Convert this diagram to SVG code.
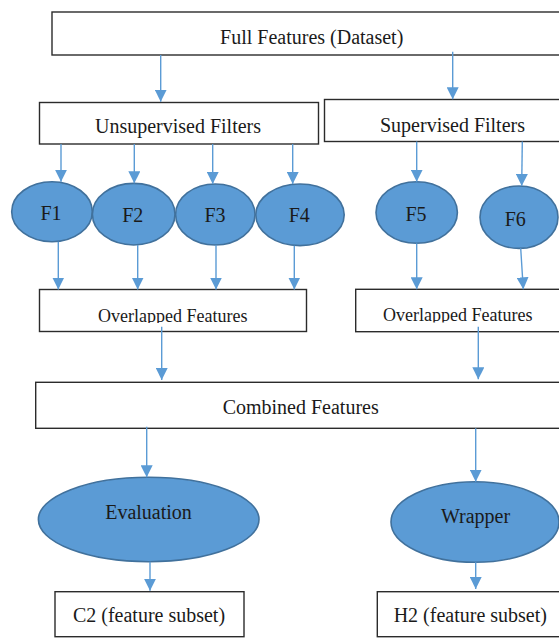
<svg xmlns="http://www.w3.org/2000/svg" width="559" height="641" viewBox="0 0 559 641">
<style>
.box{fill:#fff;stroke:#2b2b2b;stroke-width:1.4}
.ell{fill:#5b9bd5;stroke:#41719c;stroke-width:1.6}
text{font-family:'Liberation Serif','Times New Roman',Tinos,'DejaVu Serif',serif;font-size:20px;fill:#1a1a1a;text-anchor:middle}
text.sm{font-size:18px}
.conn line{stroke:#5b9bd5;stroke-width:1.4;fill:none;marker-end:url(#ah)}
</style>
<defs>
<marker id="ah" markerUnits="userSpaceOnUse" markerWidth="12" markerHeight="12" refX="12" refY="6" orient="auto">
<path d="M0,0 L12,6 L0,12 z" fill="#5b9bd5"/>
</marker>
<clipPath id="clipL"><rect x="39" y="289" width="270" height="34"/></clipPath>
<clipPath id="clipR"><rect x="355" y="289" width="210" height="33.5"/></clipPath>
</defs>
<rect width="559" height="641" fill="#fff"/>

<g id="full"><rect class="box" x="52" y="12" width="520" height="43"/><text x="311.7" y="43.5">Full Features (Dataset)</text></g>
<g id="unsup"><rect class="box" x="39.5" y="102.5" width="279" height="41.5"/><text x="178" y="133">Unsupervised Filters</text></g>
<g id="sup"><rect class="box" x="324.5" y="99.5" width="250" height="42"/><text x="452.5" y="131.5">Supervised Filters</text></g>

<g id="f1"><ellipse class="ell" cx="52" cy="211.7" rx="40.3" ry="30"/><text x="51" y="220">F1</text></g>
<g id="f2"><ellipse class="ell" cx="133.7" cy="214.2" rx="41.3" ry="30.8"/><text x="132.7" y="222.3">F2</text></g>
<g id="f3"><ellipse class="ell" cx="215.3" cy="214.5" rx="39.7" ry="30.5"/><text x="215" y="222.3">F3</text></g>
<g id="f4"><ellipse class="ell" cx="300" cy="214.8" rx="44.2" ry="30.8"/><text x="299.3" y="222.3">F4</text></g>
<g id="f5"><ellipse class="ell" cx="416.7" cy="212.5" rx="40.7" ry="30.8"/><text x="416" y="221">F5</text></g>
<g id="f6"><ellipse class="ell" cx="519" cy="217.2" rx="39" ry="31.2"/><text x="515.3" y="225.7">F6</text></g>

<g id="overL"><rect class="box" x="39.5" y="289.5" width="267" height="42"/><text class="sm" x="172.8" y="321.5" clip-path="url(#clipL)">Overlapped Features</text></g>
<g id="overR"><rect class="box" x="355.7" y="289.3" width="220" height="42.4"/><text class="sm" x="457.7" y="320.7" clip-path="url(#clipR)">Overlapped Features</text></g>

<g id="combined"><rect class="box" x="35.7" y="382.3" width="540" height="46"/><text x="300.7" y="414">Combined Features</text></g>

<g id="evaluation"><ellipse class="ell" cx="148.7" cy="519.5" rx="110.3" ry="42.2"/><text x="148.5" y="519.3">Evaluation</text></g>
<g id="wrapper"><ellipse class="ell" cx="475" cy="522" rx="84" ry="40.3"/><text x="475.5" y="523.3">Wrapper</text></g>

<g id="c2"><rect class="box" x="55" y="591.7" width="189" height="45"/><text x="149" y="622.3">C2 (feature subset)</text></g>
<g id="h2"><rect class="box" x="377.3" y="591.7" width="200" height="45"/><text x="470.3" y="622.3">H2 (feature subset)</text></g>

<g id="connectors" class="conn">
<line x1="160.7" y1="55" x2="160.7" y2="101.7"/>
<line x1="452.7" y1="51.7" x2="452.7" y2="99.3"/>
<line x1="61" y1="144" x2="61" y2="181.7"/>
<line x1="134.3" y1="144" x2="134.3" y2="183.3"/>
<line x1="212.7" y1="144" x2="212.7" y2="184"/>
<line x1="292.7" y1="144" x2="292.7" y2="184"/>
<line x1="416.7" y1="141.5" x2="416.7" y2="181.7"/>
<line x1="522.3" y1="141.5" x2="521.7" y2="186"/>
<line x1="58.3" y1="241.7" x2="58.3" y2="289.5"/>
<line x1="137.7" y1="245" x2="137.7" y2="289.5"/>
<line x1="216" y1="245" x2="216" y2="289.5"/>
<line x1="294.3" y1="245.7" x2="294.3" y2="289.5"/>
<line x1="416.7" y1="243.3" x2="416.7" y2="289.3"/>
<line x1="520.7" y1="248.3" x2="523.3" y2="289.3"/>
<line x1="161.7" y1="326.7" x2="161.7" y2="380"/>
<line x1="478.3" y1="326.7" x2="478.3" y2="379.3"/>
<line x1="146.7" y1="426.7" x2="146.7" y2="477.3"/>
<line x1="475.7" y1="428.3" x2="475.7" y2="481.7"/>
<line x1="150" y1="561.7" x2="150" y2="590.7"/>
<line x1="475.7" y1="562.3" x2="475.7" y2="589"/>
</g>
</svg>
